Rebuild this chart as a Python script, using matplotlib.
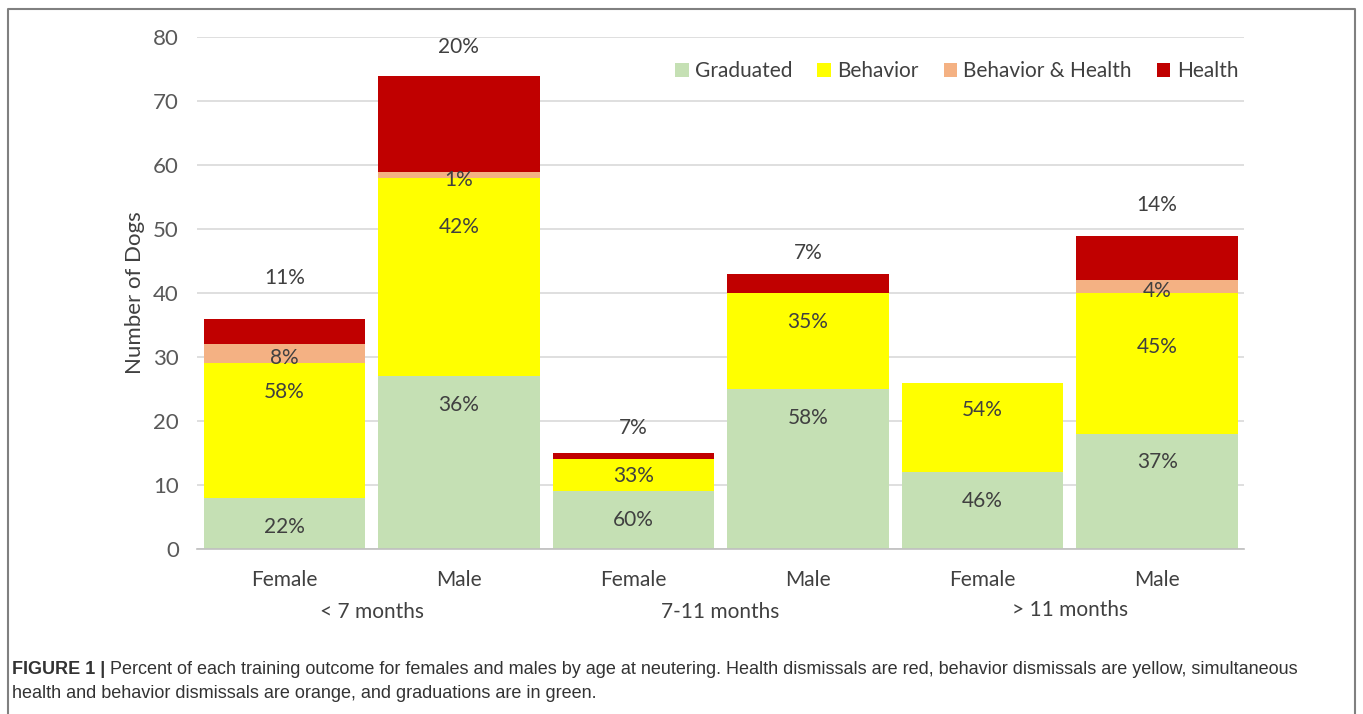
import matplotlib.pyplot as plt
import numpy as np
from matplotlib.lines import Line2D

sexes = ["Female", "Male", "Female", "Male", "Female", "Male"]
age_groups = ["< 7 months", "7-11 months", "> 11 months"]
series_names = ["Graduated", "Behavior", "Behavior & Health", "Health"]

graduated = [8, 27, 9, 25, 12, 18]
behavior = [21, 31, 5, 15, 14, 22]
behavior_health = [3, 1, 0, 0, 0, 2]
health = [4, 15, 1, 3, 0, 7]

colors = ["#C5E0B4", "#FFFF00", "#F4B183", "#C00000"]

# label placement, in data units relative to each segment's top
label_shift = [
    [-4.5, -4.5, -4.5, -4.5, -4.5, -4.4],
    [-4.5, -7.7, -2.6, -4.5, -4.3, -8.4],
    [-2.2, -1.3, 0, 0, 0, -1.7],
    [6.3, 4.4, 3.9, 3.2, 0, 4.8],
]

TXT = "#404040"
FONT = "Lato"
FS = 15

fig = plt.figure(figsize=(13.63, 7.14), dpi=100)
ax = fig.add_axes([0.1445, 0.231, 0.7685, 0.717])

data = np.array([graduated, behavior, behavior_health, health], dtype=float)
totals = data.sum(axis=0)
x = np.arange(len(sexes))
bottom = np.zeros(len(sexes))
for k, (name, vals) in enumerate(zip(series_names, data)):
    ax.bar(x, vals, width=0.925, bottom=bottom, color=colors[k], label=name, zorder=2)
    tops = bottom + vals
    for i in range(len(sexes)):
        if vals[i] <= 0:
            continue
        pct = round(vals[i] / totals[i] * 100)
        ax.text(x[i], tops[i] + label_shift[k][i], f"{pct}%", ha="center", va="center",
                fontsize=FS, color=TXT, family=FONT, zorder=3)
    bottom = tops

ax.set_xlim(-0.5, len(sexes) - 0.5)
ax.set_ylim(0, 80)
ax.set_yticks(range(0, 81, 10))
ax.yaxis.grid(True, color="#D9D9D9", lw=1.2, zorder=0)
ax.set_axisbelow(True)
for s in ["top", "right", "left"]:
    ax.spines[s].set_visible(False)
ax.spines["bottom"].set_color("#BFBFBF")
ax.spines["bottom"].set_linewidth(1.2)
ax.tick_params(length=0)
ax.tick_params(axis="y", pad=13, labelsize=16, labelcolor="#595959")
ax.set_xticks(x)
ax.set_xticklabels(sexes, fontsize=FS, color=TXT, family=FONT)
ax.tick_params(axis="x", pad=15)
for lab in ax.get_yticklabels():
    lab.set_family(FONT)
ax.set_ylabel("Number of Dogs", fontsize=16, color=TXT, family=FONT, labelpad=6)

group_y = [-9.9, -9.9, -9.5]
for g, name in enumerate(age_groups):
    ax.text(2 * g + 0.5, group_y[g], name, ha="center", va="center",
            fontsize=FS, color=TXT, family=FONT)

leg = ax.legend(ncol=4, loc="upper right", bbox_to_anchor=(1.012, 0.99), frameon=False,
                handlelength=0.65, handleheight=0.65, handletextpad=0.3, columnspacing=1.2,
                prop={"family": FONT, "size": 15})
for t in leg.get_texts():
    t.set_color(TXT)

# frame around figure
fx0, fx1, fy1 = 8 / 1363, 1355 / 1363, 1 - 9 / 714
fig.add_artist(Line2D([fx0, fx0, fx1, fx1], [0, fy1, fy1, 0], color="#808080", lw=1.5,
                      transform=fig.transFigure))

cap_font = ["Liberation Sans Narrow", "Liberation Sans"]
cap_fs = 13
cap_y1, cap_y2 = 1 - 669 / 714, 1 - 693 / 714
head = fig.text(12 / 1363, cap_y1, "FIGURE 1 |", fontsize=cap_fs, fontweight="bold",
                family=cap_font, color="#333333", va="center")
fig.canvas.draw()
bb = head.get_window_extent()
fig.text((bb.x1 + 5) / 1363, cap_y1,
         "Percent of each training outcome for females and males by age at neutering. "
         "Health dismissals are red, behavior dismissals are yellow, simultaneous",
         fontsize=cap_fs, family=cap_font, color="#333333", va="center")
fig.text(12 / 1363, cap_y2,
         "health and behavior dismissals are orange, and graduations are in green.",
         fontsize=cap_fs, family=cap_font, color="#333333", va="center")

fig.savefig("out.png", dpi=100)
